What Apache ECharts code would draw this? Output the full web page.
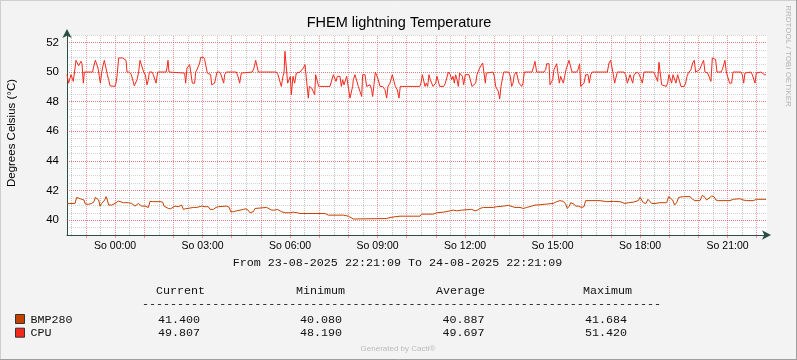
<!DOCTYPE html>
<html><head><meta charset="utf-8">
<script src="https://cdn.jsdelivr.net/npm/echarts@6/dist/echarts.min.js"></script>
<style>html,body{margin:0;padding:0;background:#F3F3F3}#c{width:797px;height:360px}</style>
</head><body><div id="c"></div>
<script>
// ---- data (x = minutes after 23-08-2025 22:21:09, y = °C) ----
const startClock = { h: 22, m: 21, s: 9 };
const spanMinutes = 1440;
const yMin = 39, yMax = 52.5, yMinorStep = 0.5;
const yTickLabels = [40, 42, 44, 46, 48, 50, 52];
const xTickLabels = ['00:00', '03:00', '06:00', '09:00', '12:00', '15:00', '18:00', '21:00'];
const xDayPrefix = 'So ';

const cpuSeries = [[0,49.82],[1.4,49.82],[3.4,49.25],[6.2,49.25],[8.2,49.82],[11.7,49.82],[13.0,49.37],[15.1,49.37],[18.5,50.79],[21.9,50.79],[24.0,50.43],[26.7,50.43],[28.8,50.72],[30.9,50.56],[32.2,50.61],[33.6,49.25],[35.7,50.0],[52.8,50.0],[54.2,50.27],[58.3,50.79],[61.7,50.79],[63.8,50.27],[66.5,49.71],[68.6,49.25],[71.3,49.93],[73.4,50.34],[76.8,50.79],[80.2,50.79],[83.0,49.82],[85.7,49.48],[88.5,49.07],[90.5,49.03],[98.7,49.03],[100.8,49.25],[102.8,49.71],[106.3,50.95],[114.5,50.95],[118.6,50.84],[121.4,50.79],[123.4,50.0],[128.2,50.0],[132.3,49.82],[135.1,49.82],[138.5,49.07],[141.9,49.07],[144.0,49.48],[147.4,50.0],[150.2,50.79],[154.3,50.79],[157.7,50.0],[161.1,49.82],[164.6,49.14],[167.3,49.48],[169.4,50.0],[174.8,50.0],[177.6,49.82],[180.3,49.82],[183.1,49.25],[186.5,50.0],[203.7,50.0],[205.7,50.27],[207.8,50.79],[209.8,50.0],
[242.0,49.93],[244.1,49.25],[246.8,50.27],[249.6,50.27],[252.3,50.50],[255.7,50.50],[257.8,49.25],[262.6,49.25],[264.7,50.0],[267.4,50.16],[269.5,50.27],[272.9,50.61],[275.0,50.99],[281.1,50.99],[283.2,50.84],[286.6,50.84],[288.7,49.93],[292.1,49.93],[295.5,49.82],[297.6,49.14],[300.3,49.03],[303.7,49.25],[305.8,49.25],[308.5,50.0],[314.0,50.0],[316.8,49.82],[319.5,49.82],[322.3,49.25],[324.3,49.82],[327.7,50.0],[348.3,50.0],[351.7,49.71],[355.2,49.25],[358.6,49.93],[360.7,50.0],[381.2,50.0],[384.7,50.27],[388.1,50.79],[390.8,50.79],[393.6,50.0],[430.6,50.0],[434.0,49.82],[437.5,49.82],[440.9,49.03],[444.3,49.71],[446.4,49.93],[448.4,51.40],[451.2,51.40],[453.9,49.25],[456.7,49.25],[459.4,49.71],[461.5,48.47],[464.9,49.71],[468.3,49.25],[471.7,49.93],
[479.3,50.0],[482.7,50.05],[486.2,50.27],[489.6,50.50],[493.0,50.50],[496.4,48.24],[498.5,49.03],[503.3,48.92],[506.7,48.80],[509.5,48.47],[511.5,49.82],[515.0,49.82],[517.7,49.03],[541.0,49.03],[544.4,49.14],[547.9,49.82],[551.3,49.82],[553.4,49.37],[556.1,49.71],[558.8,49.59],[561.6,49.71],[564.3,49.03],[567.1,49.48],[569.8,49.14],[572.6,49.03],[575.3,49.71],[578.7,49.71],[582.2,48.24],[585.6,48.24],[587.6,49.03],[589.0,49.48],[592.4,49.82],[595.9,49.82],[599.3,49.03],[602.7,48.69],[606.2,48.35],[608.2,49.82],[613.0,49.82],[616.4,49.03],[619.9,49.03],[623.3,49.14],[626.7,48.80],[628.8,48.35],[631.5,49.14],[634.3,50.0],[637.0,49.93],[640.4,49.48],[643.9,49.03],[649.4,49.03],[654.2,48.80],[657.6,48.24],[660.3,49.03],[664.4,49.25],[666.5,49.14],[669.2,49.82],[672.7,49.71],[675.4,49.03],[679.5,48.80],[682.9,48.24],[685.7,49.03],
[725.5,49.03],[728.2,49.25],[731.0,49.82],[733.7,49.82],[736.5,49.03],[739.2,49.25],[741.9,49.03],[744.7,49.82],[747.4,49.48],[750.2,49.25],[752.9,49.03],[755.7,49.14],[758.4,49.25],[761.1,49.71],[763.9,49.82],[766.6,49.03],[774.9,49.03],[778.3,49.25],[781.7,49.25],[784.5,50.0],[788.6,49.82],[791.3,49.48],[794.1,49.71],[796.8,49.25],[799.5,49.82],[802.3,49.48],[805.0,49.03],[807.8,49.93],[810.5,49.82],[813.3,49.71],[816.0,49.14],[819.4,49.82],[822.9,49.71],[827.0,49.82],[829.7,49.48],[833.1,49.03],[836.6,49.14],[840.7,49.25],[843.4,49.82],[846.2,50.05],[848.9,50.27],[852.3,50.27],[855.1,50.61],[857.1,50.50],[860.6,49.25],[862.6,49.93],[864.0,50.0],[876.3,50.0],[879.1,49.71],[881.8,49.03],[884.6,48.92],[887.3,48.69],[890.1,48.19],[892.8,49.03],[895.5,49.14],[898.3,50.0],[908.6,50.0],[912.0,49.71],[914.7,49.03],[917.5,49.25],[920.2,49.82],[924.3,50.0],[927.1,49.93],[929.8,49.25],[932.6,49.14],[935.3,49.03],[938.1,49.25],[940.8,50.0],[956.6,50.0],[960.0,50.38],
[962.7,50.72],[964.1,50.79],[966.2,50.0],[981.3,50.0],[984.7,50.16],[986.8,50.56],[991.6,50.56],[993.6,49.14],[996.4,49.03],[999.1,49.48],[1001.8,50.16],[1004.6,50.20],[1007.3,50.56],[1010.1,50.56],[1012.8,49.25],[1015.6,49.71],[1018.3,49.82],[1021.0,49.25],[1023.8,49.25],[1026.5,50.16],[1029.3,50.27],[1032.7,50.79],[1036.1,50.79],[1038.9,50.0],[1048.5,50.0],[1051.2,50.16],[1054.6,50.56],[1056.7,49.03],[1059.4,49.03],[1063.6,49.25],[1067.0,49.82],[1069.0,49.71],[1071.8,49.82],[1074.5,49.25],[1077.3,49.82],[1080.7,50.0],[1111.5,50.0],[1115.0,50.61],[1118.4,50.79],[1121.2,50.79],[1123.9,49.82],[1126.6,49.25],[1129.4,49.25],[1132.1,50.0],[1145.8,50.0],[1149.3,49.82],[1152.7,49.25],[1155.4,49.25],[1158.2,49.82],[1160.9,49.71],[1163.7,49.25],[1166.4,49.82],[1169.2,49.93],[1173.3,50.0],[1177.4,49.82],[1180.1,49.82],[1183.6,49.25],[1187.0,50.0],
[1206.8,50.0],[1209.5,49.82],[1212.3,49.82],[1215.0,49.37],[1217.8,50.66],[1220.5,50.61],[1223.2,49.14],[1226.0,49.03],[1232.8,49.03],[1235.6,49.25],[1238.3,49.82],[1241.1,49.82],[1243.8,49.25],[1246.6,49.82],[1249.3,49.82],[1252.7,49.25],[1256.2,49.82],[1259.6,49.82],[1263.0,49.03],[1269.9,49.03],[1272.6,49.25],[1275.4,49.71],[1278.1,49.93],[1280.8,50.05],[1283.6,50.16],[1287.0,50.61],[1290.4,50.79],[1293.2,50.0],[1297.3,50.0],[1301.4,50.16],[1304.2,50.27],[1306.9,50.61],[1309.6,50.79],[1312.4,50.0],[1317.9,49.93],[1322.0,49.82],[1324.7,49.37],[1327.5,50.95],[1331.6,50.95],[1334.3,50.84],[1337.1,50.0],[1345.3,50.0],[1348.1,50.16],[1350.8,50.27],[1353.5,50.79],[1356.3,50.0],[1360.4,49.93],[1363.1,49.25],[1367.3,49.25],[1370.0,50.0],[1386.5,50.0],[1389.2,49.82],[1392.0,49.25],[1394.7,49.93],[1407.0,50.0],[1409.8,49.82],[1412.5,49.82],[1415.3,49.25],[1418.0,49.93],[1427.6,50.0],[1431.0,49.93],[1434.5,49.82],[1438,49.81]];

const bmpSeries = [[0,41.13],[16.5,41.13],[19.9,41.54],[23.3,41.50],[30.2,41.41],[35.0,41.36],[37.7,41.09],[43.9,41.07],[50.8,41.13],[55.6,41.25],[58.3,41.54],[62.4,41.54],[65.2,41.36],[67.9,40.95],[71.3,41.13],[74.8,41.09],[77.5,41.36],[80.3,41.59],[83.0,41.36],[85.7,41.02],[91.9,41.02],[98.8,41.13],[105.6,41.29],[109.1,41.25],[115.9,41.18],[126.2,41.18],[133.1,41.13],[136.5,41.02],[139.9,40.95],[143.3,41.07],[146.8,41.13],[150.2,41.02],[153.6,40.95],[157.1,40.86],[160.5,40.95],[163.9,41.02],[167.3,40.86],[170.8,41.27],[176.3,41.25],[191.3,41.25],[196.8,41.22],[199.6,40.95],[203.7,40.86],[208.5,40.79],[213.3,40.77],[217.4,40.86],[222.2,40.95],[229.1,40.91],[235.9,41.02],[239.3,40.73],[243.5,40.77],[247.6,40.86],[253.1,40.82],[259.9,40.86],[266.8,40.86],[270.2,40.95],[277.1,40.95],[283.9,40.91],[287.3,41.02],[290.8,40.91],[294.2,40.73],[301.0,40.73],[306.5,40.86],[311.3,40.91],[328.5,40.95],[334.0,40.86],[336.7,40.57],[342.2,40.57],[349.0,40.63],[355.9,40.68],[362.8,40.73],[368.2,40.77],[372.4,40.68],[376.5,40.50],[380.6,40.50],[383.3,40.57],[386.8,40.79],[390.2,40.86],[410.8,40.86],[414.9,40.79],[421.0,40.68],[427.9,40.68],[432.7,40.73],[436.8,40.63],[441.6,40.57],[448.5,40.50],[458.8,40.50],[465.6,40.54],[469.7,40.59],[473.9,40.50],[479.3,40.45],[530.8,40.45],[537.6,40.34],[568.5,40.34],[578.8,40.27],[589.0,40.08],[657.6,40.11],[664.5,40.18],[674.8,40.23],[685.0,40.27],[726.1,40.27],[729.6,40.41],[753.6,40.41],[760.4,40.50],[774.1,40.54],[787.9,40.63],[794.7,40.68],[798.1,40.59],[801.6,40.63],[811.9,40.68],[832.4,40.73],[839.3,40.63],[844.1,40.68],[849.6,40.79],[856.4,40.86],[877.0,40.86],[883.9,40.91],[897.6,40.95],[907.9,41.00],[911.3,40.91],[921.6,40.86],[931.9,40.86],[938.7,40.79],[945.6,40.86],[955.9,40.95],[962.7,41.02],[973.0,41.04],[986.7,41.09],[1000.4,41.13],[1007.3,41.25],[1014.1,41.32],[1021.0,41.27],[1025.8,41.09],[1029.2,40.79],[1033.3,40.95],[1036.1,41.18],[1040.2,41.22],[1042.9,41.09],[1046.4,40.95],[1051.8,40.95],[1058.7,40.86],[1063.5,40.91],[1066.9,41.32],[1096.4,41.32],[1110.1,41.25],[1123.8,41.27],[1137.6,41.25],[1147.9,41.13],[1154.7,41.18],[1165.0,41.22],[1175.3,41.32],[1178.7,41.54],[1182.1,41.45],[1185.6,41.18],[1191.0,41.13],[1195.2,41.41],[1199.3,41.32],[1202.7,41.13],[1209.6,41.13],[1219.8,41.18],[1233.6,41.18],[1237.7,41.59],[1241.8,41.59],[1245.9,41.36],[1250.0,41.02],[1254.1,41.18],[1258.3,41.54],[1267.8,41.59],[1281.6,41.59],[1287.1,41.41],[1291.8,41.32],[1302.1,41.32],[1306.9,41.68],[1312.4,41.54],[1315.8,41.36],[1319.3,41.36],[1326.1,41.63],[1330.9,41.59],[1335.0,41.36],[1339.8,41.32],[1363.8,41.32],[1370.7,41.41],[1384.4,41.45],[1391.2,41.36],[1398.1,41.32],[1411.8,41.32],[1418.7,41.41],[1435.8,41.41],[1438,41.40]];

const legendNames = ['BMP280', 'CPU'];
const legendColors = ['#C44100', '#F4291C'];
const statHeaders = ['Current', 'Minimum', 'Average', 'Maximum'];
const statsBMP = ['41.400', '40.080', '40.887', '41.684'];
const statsCPU = ['49.807', '48.190', '49.697', '51.420'];
const titleText = 'FHEM lightning Temperature';
const yName = 'Degrees Celsius (°C)';
const rangeText = 'From 23-08-2025 22:21:09 To 24-08-2025 22:21:09';

// ---- helpers ----
const startMin = startClock.h * 60 + startClock.m + startClock.s / 60;
function clockToOffset(str) {
  const [h, m] = str.split(':').map(Number);
  return ((h * 60 + m) - startMin + 1440) % 1440;
}
function offsetToClock(v) {
  const t = Math.round(startMin + v) % 1440;
  const h = Math.floor(t / 60), m = t % 60;
  return String(h).padStart(2, '0') + ':' + String(m).padStart(2, '0');
}
const xLabelPos = xTickLabels.map(clockToOffset);
const hourTicks = [], halfTicks = [];
for (let v = clockToOffset('22:30'); v < spanMinutes; v += 30) {
  const r = (startMin + v) % 60;
  const isHour = Math.abs(r) < 1e-6 || Math.abs(r - 60) < 1e-6;
  (isHour ? hourTicks : halfTicks).push(v);
}

const GRID_C = 'rgba(140,140,140,0.38)';
const GRID_V = 'rgba(140,140,140,0.5)';
const MGRID_C = 'rgba(225,50,50,0.5)';
const AXIS_C = '#2C4D43';
const mono = '"Liberation Mono", "DejaVu Sans Mono", monospace';
const sans = '"Liberation Sans", Arial, sans-serif';

function gridSeries(items, color, z) {
  return {
    type: 'line', data: [], z: z, silent: true,
    markLine: {
      silent: true, animation: false, symbol: ['none', 'none'], label: { show: false },
      emphasis: { disabled: true },
      lineStyle: { color: color, width: 1, type: [1, 1] },
      data: items
    }
  };
}

const chart = echarts.init(document.getElementById('c'), null, { renderer: 'canvas' });

const T = (text, x, y, font, fill, align, extra) => Object.assign({ type: 'text', x: x, y: y, silent: true,
  style: { text: text, font: font, fill: fill, align: align, verticalAlign: 'middle', textAlign: align, textVerticalAlign: 'middle' } }, extra || {});

const graphics = [
  { type: 'line', shape: { x1: 0.5, y1: 0, x2: 0.5, y2: 360 }, style: { stroke: '#CFCFCF', lineWidth: 1 } },
  { type: 'line', shape: { x1: 0, y1: 0.5, x2: 797, y2: 0.5 }, style: { stroke: '#CFCFCF', lineWidth: 1 } },
  { type: 'line', shape: { x1: 796.5, y1: 0, x2: 796.5, y2: 360 }, style: { stroke: '#9E9E9E', lineWidth: 1 } },
  { type: 'line', shape: { x1: 0, y1: 359.5, x2: 797, y2: 359.5 }, style: { stroke: '#9E9E9E', lineWidth: 1 } },
  T(titleText, 399, 22.5, '14.5px ' + sans, '#000', 'center'),
  T(yName, 12, 133, '11.5px ' + sans, '#000', 'center', { rotation: Math.PI / 2 }),
  T('RRDTOOL / TOBI OETIKER', 788, 56, '8px ' + sans, '#B4B4B4', 'center', { rotation: -Math.PI / 2 }),
  T(rangeText, 397.5, 263, '11.7px ' + mono, '#111', 'center'),
  T('-'.repeat(74), 142, 303.5, '11.7px ' + mono, '#111', 'left'),
  T('Generated by Cacti®', 398, 349, '8px ' + sans, '#BBBBBB', 'center')
];
const colX = [156, 296, 436, 583];
const valX = [158, 300, 442.5, 585];
statHeaders.forEach((h, i) => graphics.push(T(h, colX[i], 291, '11.7px ' + mono, '#111', 'left')));
[statsBMP, statsCPU].forEach((row, r) => {
  const yy = 319.5 + r * 13.7;
  graphics.push({ type: 'rect', shape: { x: 15.5, y: yy - 5, width: 9, height: 9 }, style: { fill: legendColors[r], stroke: '#333', lineWidth: 1 } });
  graphics.push(T(legendNames[r], 30.5, yy, '11.7px ' + mono, '#111', 'left'));
  row.forEach((v, i) => graphics.push(T(v, valX[i], yy, '11.7px ' + mono, '#111', 'left')));
});

const option = {
  animation: false,
  backgroundColor: '#F3F3F3',
  grid: { left: 67, top: 35, width: 700, height: 200, show: true, backgroundColor: '#FFFFFF', borderWidth: 0, outerBoundsMode: 'none' },
  xAxis: [
    { type: 'value', min: 0, max: spanMinutes, position: 'bottom',
      axisLine: { show: true, onZero: false, lineStyle: { color: AXIS_C, width: 1 }, symbol: ['none', 'arrow'], symbolSize: [7, 9], symbolOffset: [0, 4] },
      axisTick: { show: true, customValues: hourTicks, length: 3, lineStyle: { color: MGRID_C } },
      axisLabel: { show: true, customValues: xLabelPos, formatter: v => xDayPrefix + offsetToClock(v), color: '#000', fontFamily: 'Liberation Sans', fontSize: 10.5, margin: 6 },
      splitLine: { show: false } }
  ],
  yAxis: [
    { type: 'value', min: yMin, max: yMax, interval: yMinorStep, position: 'left',
      axisLine: { show: true, onZero: false, lineStyle: { color: AXIS_C, width: 1 }, symbol: ['none', 'arrow'], symbolSize: [7, 9], symbolOffset: [0, 6] },
      axisTick: { show: false },
      axisLabel: { show: true, formatter: v => (yTickLabels.indexOf(v) >= 0 ? String(v) : ''), color: '#000', fontFamily: 'Liberation Sans', fontSize: 11.5, margin: 8 },
      splitLine: { show: true, lineStyle: { color: GRID_C, width: 1, type: [1, 1] } } }
  ],
  series: [
    gridSeries(halfTicks.map(v => ({ xAxis: v })), GRID_V, 1),
    gridSeries(hourTicks.map(v => ({ xAxis: v })).concat(yTickLabels.map(v => ({ yAxis: v }))), MGRID_C, 2),
    { name: 'BMP280', type: 'line', data: bmpSeries, showSymbol: false, symbol: 'none', lineStyle: { color: legendColors[0], width: 1 }, z: 5 },
    { name: 'CPU', type: 'line', data: cpuSeries, showSymbol: false, symbol: 'none', lineStyle: { color: legendColors[1], width: 1 }, z: 6 }
  ],
  graphic: { elements: graphics }
};
chart.setOption(option);
</script></body></html>
